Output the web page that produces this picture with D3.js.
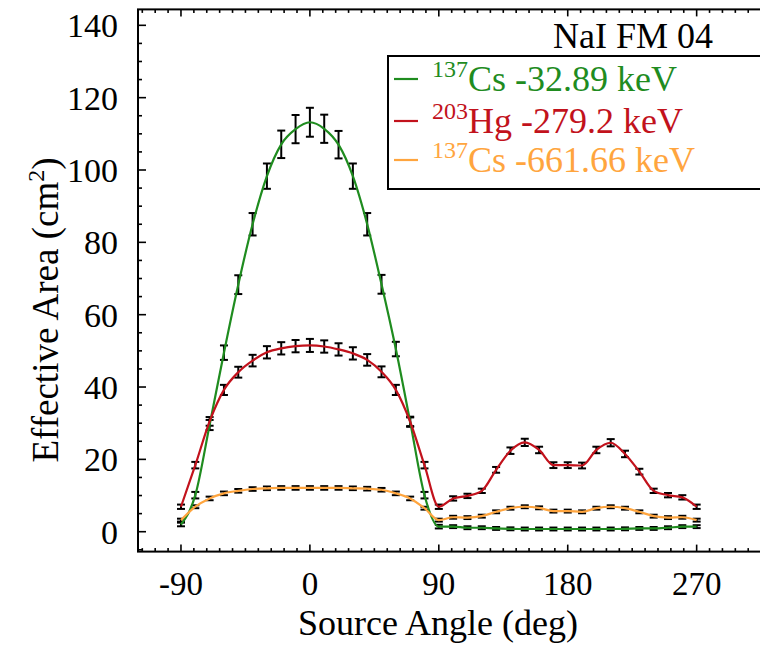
<!DOCTYPE html>
<html>
<head>
<meta charset="utf-8">
<script src="https://cdn.jsdelivr.net/npm/d3@7"></script>
<style>
  html, body { margin: 0; padding: 0; background: #fff; }
  svg { display: block; }
  text { font-family: "Liberation Serif", "Times New Roman", serif; }
</style>
</head>
<body>
<svg id="chart" width="760" height="645"></svg>
<script>
// ---------- data ----------
const angles = [-90,-80,-70,-60,-50,-40,-30,-20,-10,0,10,20,30,40,50,60,70,80,90,
                100,110,120,130,140,150,160,170,180,190,200,210,220,230,240,250,260,270];

const cs32 = [2.0,10.1,29.5,49.5,68.3,85.0,98.3,107.1,111.3,113.2,111.4,107.0,98.3,85.0,68.4,50.5,30.4,10.1,1.4,
              1.4,1.1,1.1,0.9,0.8,0.75,0.75,0.75,0.75,0.75,0.75,0.75,0.8,0.9,0.9,1.1,1.4,1.4];
const cs32Err = [0.5,0.9,1.4,2.0,2.6,3.1,3.5,3.8,3.9,4.0,3.9,3.8,3.5,3.1,2.6,2.0,1.4,0.9,0.5,
                 0.4,0.4,0.4,0.4,0.4,0.4,0.4,0.4,0.4,0.4,0.4,0.4,0.4,0.4,0.4,0.4,0.4,0.4];

const hg279 = [6.9,18.4,30.5,39.2,44.1,47.3,49.6,50.7,51.3,51.5,51.2,50.4,49.3,47.5,44.2,39.2,30.4,18.4,6.9,
               9.2,9.9,11.3,17.1,22.4,24.7,22.6,18.4,18.4,18.3,22.6,24.6,21.5,16.6,11.3,10.1,9.5,6.9];
const hg279Err = [0.6,0.9,1.2,1.4,1.5,1.6,1.7,1.7,1.7,1.8,1.7,1.7,1.7,1.6,1.5,1.4,1.2,0.9,0.6,
                  0.6,0.6,0.6,0.8,0.9,1.0,0.9,0.8,0.8,0.8,0.9,1.0,0.9,0.8,0.6,0.6,0.6,0.6];

const cs661 = [3.2,6.9,9.2,10.6,11.3,11.8,12.0,12.1,12.1,12.1,12.1,12.1,12.0,11.9,11.6,10.6,9.2,6.5,3.2,
               4.0,3.9,4.3,5.5,6.5,6.9,6.6,5.7,5.7,5.5,6.5,6.9,6.5,5.5,4.3,3.9,4.0,3.2];
const cs661Err = [0.4,0.4,0.5,0.5,0.5,0.5,0.5,0.5,0.5,0.5,0.5,0.5,0.5,0.5,0.5,0.5,0.5,0.4,0.4,
                  0.4,0.4,0.4,0.4,0.4,0.4,0.4,0.4,0.4,0.4,0.4,0.4,0.4,0.4,0.4,0.4,0.4,0.4];

const xMajorTicks = [-90, 0, 90, 180, 270];
const xTickLabels = ["-90", "0", "90", "180", "270"];
const yMajorTicks = [0, 20, 40, 60, 80, 100, 120, 140];
const yTickLabels = ["0", "20", "40", "60", "80", "100", "120", "140"];

const seriesNames = ["Cs", "Hg", "Cs"];
const seriesIsotopes = ["137", "203", "137"];
const seriesEnergies = [" -32.89 keV", " -279.2 keV", " -661.66 keV"];
const titleText = "NaI FM 04";

// ---------- layout ----------
const colors = ["#1f8c1f", "#c2121c", "#ffa53e"];
const svg = d3.select("#chart");
svg.append("rect").attr("width", 760).attr("height", 645).attr("fill", "#fff");

const x = d3.scaleLinear().domain([-120, 330]).range([138, 782.6]);
const y = d3.scaleLinear().domain([-5.5, 144.4]).range([551.6, 9.4]);

const plotL = x(-120), plotR = x(330), plotT = y(144.4), plotB = y(-5.5);

const xMinor = d3.range(-117, 330, 9).filter(v => !xMajorTicks.includes(v));
const yMinor = d3.range(-5, 145, 5).filter(v => !yMajorTicks.includes(v));

const axisG = svg.append("g").attr("stroke", "#000").attr("stroke-width", 1.6);
xMajorTicks.forEach(v => {
  axisG.append("line").attr("x1", x(v)).attr("x2", x(v)).attr("y1", plotB).attr("y2", plotB - 7);
  axisG.append("line").attr("x1", x(v)).attr("x2", x(v)).attr("y1", plotT).attr("y2", plotT + 7);
});
xMinor.forEach(v => {
  axisG.append("line").attr("x1", x(v)).attr("x2", x(v)).attr("y1", plotB).attr("y2", plotB - 3.5);
  axisG.append("line").attr("x1", x(v)).attr("x2", x(v)).attr("y1", plotT).attr("y2", plotT + 3.5);
});
yMajorTicks.forEach(v => {
  axisG.append("line").attr("x1", plotL).attr("x2", plotL + 8).attr("y1", y(v)).attr("y2", y(v));
});
yMinor.forEach(v => {
  axisG.append("line").attr("x1", plotL).attr("x2", plotL + 4).attr("y1", y(v)).attr("y2", y(v));
});
svg.append("rect").attr("x", plotL).attr("y", plotT).attr("width", plotR - plotL).attr("height", plotB - plotT)
  .attr("fill", "none").attr("stroke", "#000").attr("stroke-width", 2);

xMajorTicks.forEach((v, i) => {
  svg.append("text").attr("x", x(v)).attr("y", 595).attr("text-anchor", "middle")
    .attr("font-size", 33).attr("fill", "#000").text(xTickLabels[i]);
});
yMajorTicks.forEach((v, i) => {
  svg.append("text").attr("x", 118).attr("y", y(v) + 12).attr("text-anchor", "end")
    .attr("font-size", 34).attr("fill", "#000").text(yTickLabels[i]);
});

svg.append("text").attr("x", 438).attr("y", 635).attr("text-anchor", "middle")
  .attr("font-size", 36).attr("fill", "#000").text("Source Angle (deg)");
const yt = svg.append("text").attr("transform", "translate(58,310) rotate(-90)")
  .attr("text-anchor", "middle").attr("font-size", 37).attr("fill", "#000");
yt.append("tspan").text("Effective Area (cm");
yt.append("tspan").attr("font-size", 24).attr("dy", -14).text("2");
yt.append("tspan").attr("dy", 14).text(")");

const series = [
  { vals: cs32, err: cs32Err },
  { vals: hg279, err: hg279Err },
  { vals: cs661, err: cs661Err }
];

const dataG = svg.append("g");
series.forEach(s => {
  angles.forEach((a, i) => {
    const cx = x(a), lo = y(s.vals[i] - s.err[i]), hi = y(s.vals[i] + s.err[i]);
    const g = dataG.append("g").attr("stroke", "#000").attr("stroke-width", 2);
    g.append("line").attr("x1", cx).attr("x2", cx).attr("y1", lo).attr("y2", hi);
    g.append("line").attr("x1", cx - 4).attr("x2", cx + 4).attr("y1", lo).attr("y2", lo);
    g.append("line").attr("x1", cx - 4).attr("x2", cx + 4).attr("y1", hi).attr("y2", hi);
  });
});
const line = d3.line().x(d => x(d[0])).y(d => y(d[1])).curve(d3.curveMonotoneX);
series.forEach((s, k) => {
  dataG.append("path")
    .datum(angles.map((a, i) => [a, s.vals[i]]))
    .attr("fill", "none").attr("stroke", colors[k]).attr("stroke-width", 2.2)
    .attr("stroke-linejoin", "round").attr("d", line);
});

svg.append("text").attr("x", 553).attr("y", 48).attr("font-size", 36).attr("fill", "#000").text(titleText);

const lg = svg.append("g");
lg.append("rect").attr("x", 388).attr("y", 56).attr("width", 400).attr("height", 133)
  .attr("fill", "#fff").attr("stroke", "#000").attr("stroke-width", 2);
const rowBase = [91, 133, 172];
seriesNames.forEach((nm, k) => {
  lg.append("line").attr("x1", 394).attr("x2", 418).attr("y1", rowBase[k] - 12).attr("y2", rowBase[k] - 12)
    .attr("stroke", colors[k]).attr("stroke-width", 2.2);
  const t = lg.append("text").attr("x", 432).attr("y", rowBase[k]).attr("font-size", 36).attr("fill", colors[k]);
  t.append("tspan").attr("font-size", 24).attr("dy", -14).text(seriesIsotopes[k]);
  t.append("tspan").attr("dy", 14).text(nm + seriesEnergies[k]);
});
</script>
</body>
</html>
